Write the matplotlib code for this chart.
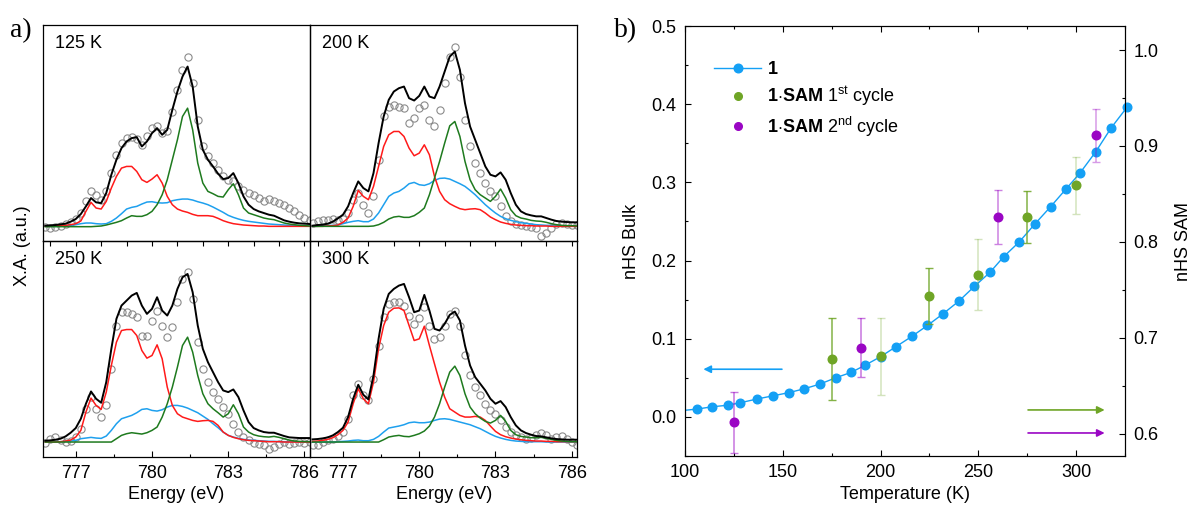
import matplotlib
matplotlib.use('Agg')
import matplotlib.pyplot as plt
from matplotlib.lines import Line2D
from matplotlib.ticker import MultipleLocator, FormatStrFormatter

plt.rcParams['font.family'] = ['Liberation Sans', 'DejaVu Sans']
plt.rcParams['mathtext.fontset'] = 'custom'
plt.rcParams['mathtext.rm'] = 'Liberation Sans'
plt.rcParams['mathtext.bf'] = 'Liberation Sans:bold'
plt.rcParams['mathtext.it'] = 'Liberation Sans:italic'

# ---- panel a: X-ray absorption spectra (a.u.) ----
energy = [775.8, 776.0, 776.2, 776.4, 776.6, 776.8, 777.0, 777.2, 777.4, 777.6,
          777.8, 778.0, 778.2, 778.4, 778.6, 778.8, 779.0, 779.2, 779.4, 779.6,
          779.8, 780.0, 780.2, 780.4, 780.6, 780.8, 781.0, 781.2, 781.4, 781.6,
          781.8, 782.0, 782.2, 782.4, 782.6, 782.8, 783.0, 783.2, 783.4, 783.6,
          783.8, 784.0, 784.2, 784.4, 784.6, 784.8, 785.0, 785.2, 785.4, 785.6,
          785.8, 786.0, 786.2]

data_125 = [0, -2, 0, 4, 8, 16, 24, 42, 77, 107, 97, 82, 107, 162, 217, 252, 267, 270, 264, 247,
            272, 297, 302, 282, 287, 347, 412, 472, 510, 432, 322, 242, 212, 192, 172, 152, 142, 137, 122, 112,
            102, 97, 87, 77, 84, 77, 72, 67, 57, 47, 37, 27, 22]
fit_125 = [4, 5, 6, 8, 10, 16, 24, 39, 62, 87, 74, 72, 102, 157, 202, 237, 257, 267, 270, 242,
           257, 282, 297, 277, 292, 352, 407, 452, 482, 422, 302, 232, 202, 182, 160, 144, 147, 162, 132, 92,
           67, 54, 47, 42, 37, 34, 27, 20, 16, 13, 11, 10, 9]
red_125 = [2, 2, 3, 4, 5, 7, 10, 18, 47, 74, 57, 54, 77, 117, 152, 177, 182, 182, 167, 142,
           134, 144, 157, 132, 92, 67, 54, 48, 44, 38, 34, 34, 34, 32, 26, 19, 14, 10, 8, 6,
           5, 4, 3, 3, 2, 2, 2, 2, 2, 2, 2, 2, 2]
green_125 = [1, 1, 1, 1, 1, 1, 1, 1, 1, 1, 2, 3, 6, 10, 14, 19, 27, 34, 32, 32,
             37, 47, 67, 97, 142, 202, 262, 332, 357, 292, 192, 132, 107, 100, 92, 90, 112, 130, 97, 57,
             42, 37, 32, 27, 24, 22, 17, 12, 9, 7, 5, 4, 3]
blue_125 = [2, 2, 2, 3, 4, 5, 7, 10, 12, 12, 10, 9, 10, 17, 27, 40, 54, 59, 62, 69,
            75, 76, 73, 72, 73, 79, 82, 84, 84, 81, 76, 72, 67, 60, 52, 44, 35, 29, 24, 20,
            17, 15, 13, 11, 9, 8, 7, 6, 5, 5, 4, 4, 3]

data_200 = [12, 17, 22, 22, 24, 22, 24, 42, 82, 102, 67, 42, 92, 202, 332, 362, 367, 360, 357, 312,
            327, 357, 367, 322, 304, 352, 432, 512, 542, 452, 322, 242, 192, 162, 132, 107, 92, 62, 32, 17,
            10, 7, 4, 0, -3, -28, -18, -3, 10, 12, 10, 7, 7]
fit_200 = [4, 6, 7, 10, 16, 26, 37, 62, 102, 137, 117, 107, 162, 252, 332, 382, 407, 417, 422, 387,
           380, 394, 422, 392, 387, 422, 467, 512, 527, 472, 372, 302, 262, 222, 182, 157, 152, 164, 142, 102,
           67, 47, 39, 35, 32, 32, 27, 22, 18, 16, 15, 14, 14]
red_200 = [2, 2, 2, 3, 4, 6, 14, 27, 62, 110, 92, 82, 122, 182, 242, 277, 287, 287, 272, 237,
           214, 222, 247, 217, 152, 107, 82, 70, 62, 55, 52, 54, 55, 52, 42, 30, 22, 15, 11, 8,
           6, 5, 4, 4, 3, 3, 3, 2, 2, 2, 2, 2, 2]
green_200 = [2, 2, 2, 2, 2, 2, 2, 2, 2, 2, 2, 2, 3, 7, 14, 24, 30, 32, 29, 29,
             34, 44, 57, 97, 147, 197, 252, 304, 317, 272, 197, 142, 112, 97, 87, 77, 92, 114, 87, 52,
             34, 27, 24, 20, 18, 17, 14, 10, 7, 5, 4, 4, 3]
blue_200 = [2, 2, 3, 4, 5, 6, 10, 14, 17, 19, 16, 16, 24, 42, 67, 92, 102, 107, 117, 130,
            134, 127, 125, 130, 140, 146, 147, 144, 137, 130, 122, 110, 97, 82, 67, 54, 42, 32, 25, 20,
            16, 13, 11, 9, 7, 6, 5, 5, 4, 4, 3, 3, 2]

data_250 = [0, 12, 17, 7, 2, 4, 17, 42, 102, 137, 102, 77, 112, 222, 352, 394, 392, 387, 377, 322,
            322, 367, 397, 352, 317, 347, 422, 492, 514, 432, 302, 222, 182, 152, 132, 107, 87, 57, 32, 17,
            7, 0, -3, -8, -18, -13, -3, 2, -3, 0, 2, 0, 2]
fit_250 = [6, 7, 9, 12, 19, 30, 44, 72, 117, 154, 132, 120, 182, 282, 372, 412, 427, 442, 450, 412,
           387, 402, 437, 397, 382, 412, 462, 497, 507, 452, 352, 282, 242, 212, 182, 157, 152, 160, 137, 97,
           62, 44, 37, 32, 30, 30, 25, 20, 16, 15, 14, 14, 14]
red_250 = [2, 2, 2, 3, 5, 8, 17, 37, 92, 134, 112, 100, 152, 232, 302, 337, 340, 340, 322, 277,
           254, 262, 294, 252, 167, 112, 87, 77, 72, 67, 64, 66, 67, 64, 52, 32, 22, 16, 12, 9,
           7, 6, 5, 4, 3, 3, 3, 2, 2, 2, 2, 2, 2]
green_250 = [2, 2, 2, 2, 2, 2, 2, 2, 2, 2, 2, 2, 2, 2, 12, 22, 27, 30, 28, 26,
             30, 37, 47, 77, 117, 167, 227, 292, 317, 272, 202, 147, 117, 102, 90, 77, 87, 114, 87, 47,
             32, 24, 20, 18, 17, 19, 16, 12, 8, 5, 4, 3, 3]
blue_250 = [2, 2, 3, 3, 4, 5, 7, 12, 14, 16, 14, 13, 20, 37, 57, 72, 77, 82, 90, 100,
            102, 97, 95, 99, 107, 112, 112, 109, 104, 97, 90, 80, 70, 57, 45, 32, 22, 17, 13, 10,
            8, 7, 6, 5, 4, 4, 3, 3, 3, 3, 2, 2, 2]

data_300 = [-8, -6, 2, 7, 12, 20, 32, 72, 142, 177, 144, 127, 192, 292, 377, 417, 424, 422, 412, 382,
            357, 374, 407, 352, 312, 317, 352, 387, 397, 352, 262, 202, 167, 142, 117, 97, 87, 67, 47, 32,
            22, 17, 12, 14, 24, 30, 22, 10, 17, 20, 12, 2, -8]
fit_300 = [10, 11, 13, 16, 22, 32, 45, 77, 132, 174, 144, 130, 202, 312, 402, 447, 462, 472, 477, 437,
           392, 397, 444, 397, 342, 337, 357, 384, 394, 367, 292, 232, 197, 177, 157, 132, 117, 125, 107, 77,
           52, 37, 29, 24, 20, 19, 16, 13, 11, 10, 9, 9, 9]
red_300 = [4, 5, 7, 10, 15, 24, 37, 62, 117, 162, 132, 117, 182, 282, 352, 392, 404, 405, 397, 352,
           307, 312, 350, 292, 237, 182, 137, 102, 92, 82, 77, 77, 79, 77, 67, 50, 34, 24, 18, 14,
           11, 9, 7, 6, 5, 5, 4, 4, 3, 3, 3, 3, 3]
green_300 = [2, 2, 2, 2, 2, 2, 2, 2, 2, 2, 2, 2, 2, 2, 9, 17, 20, 22, 19, 18,
             22, 27, 35, 50, 77, 117, 167, 212, 230, 202, 147, 107, 87, 74, 64, 59, 67, 82, 64, 37,
             24, 19, 17, 15, 15, 16, 13, 10, 7, 5, 4, 3, 3]
blue_300 = [2, 2, 2, 2, 2, 3, 4, 5, 7, 8, 6, 6, 10, 19, 32, 44, 47, 50, 54, 60,
            62, 60, 60, 62, 67, 71, 72, 70, 66, 62, 58, 54, 48, 42, 34, 26, 19, 14, 10, 7,
            5, 4, 3, 3, 3, 3, 2, 2, 2, 2, 2, 2, 2]

temps = ['125 K', '200 K', '250 K', '300 K']

# ---- panel b: high-spin fraction ----
T_bulk = [106, 114, 122, 128, 137, 145, 153, 161, 169, 177, 185, 192, 200, 208, 216,
          224, 232, 240, 248, 256, 263, 271, 279, 287, 295, 302, 310, 318, 326]
n_bulk = [0.010, 0.013, 0.015, 0.018, 0.023, 0.027, 0.031, 0.036, 0.042, 0.050, 0.057,
          0.066, 0.077, 0.090, 0.103, 0.117, 0.132, 0.148, 0.167, 0.185, 0.205, 0.224,
          0.247, 0.269, 0.292, 0.312, 0.339, 0.370, 0.396]
T_line_start = 100
n_line_start = 0.0085

T_c1 = [175, 200, 225, 250, 275, 300]
n_c1 = [0.678, 0.681, 0.744, 0.766, 0.826, 0.859]
e_c1 = [0.043, 0.040, 0.029, 0.037, 0.027, 0.030]
T_c2 = [125, 190, 260, 310]
n_c2 = [0.612, 0.690, 0.826, 0.911]
e_c2 = [0.032, 0.031, 0.028, 0.028]

c_red = '#ff1a1a'
c_green = '#1e7a1e'
c_blue = '#1ea0ee'
c_b1 = '#14a0f5'
c_g = '#6fa526'
c_p = '#9a06c4'
fs = 13

fig = plt.figure(figsize=(12, 5.11), dpi=100)

spectra = [(data_125, fit_125, red_125, green_125, blue_125),
           (data_200, fit_200, red_200, green_200, blue_200),
           (data_250, fit_250, red_250, green_250, blue_250),
           (data_300, fit_300, red_300, green_300, blue_300)]
boxes = [[0.0356, 0.5284, 0.2228, 0.4221], [0.2583, 0.5284, 0.2228, 0.4221],
         [0.0356, 0.1063, 0.2228, 0.4221], [0.2583, 0.1063, 0.2228, 0.4221]]

for i, (box, (dat, fit, red, grn, blu)) in enumerate(zip(boxes, spectra)):
    ax = fig.add_axes(box)
    ax.set_facecolor('none')
    ax.plot(energy, dat, 'o', ms=5.2, mfc='none', mec='#8a8a8a', mew=0.8, zorder=1)
    ax.plot(energy, blu, color=c_blue, lw=1.1, zorder=2)
    ax.plot(energy, red, color=c_red, lw=1.1, zorder=3)
    ax.plot(energy, grn, color=c_green, lw=1.1, zorder=4)
    ax.plot(energy, fit, color='black', lw=1.4, zorder=5)
    ax.set_xlim(775.7, 786.22)
    ax.set_ylim(-42, 606)
    ax.set_yticks([])
    ax.text(0.046, 0.915, temps[i], transform=ax.transAxes, va='center', fontsize=fs)
    for s in ax.spines.values():
        s.set_linewidth(0.9)
    if i < 2:
        ax.xaxis.set_major_locator(MultipleLocator(1))
        ax.tick_params(axis='x', direction='out', length=3.5, width=0.8, labelbottom=False)
    else:
        ax.xaxis.set_major_locator(MultipleLocator(3))
        ax.xaxis.set_minor_locator(MultipleLocator(1.5))
        ax.tick_params(axis='x', which='major', direction='in', length=4.5, width=0.8,
                       labelsize=fs, pad=6)
        ax.tick_params(axis='x', which='minor', direction='in', length=2.5, width=0.8)
        ax.set_xlabel('Energy (eV)', fontsize=fs, labelpad=3)

fig.text(0.0185, 0.52, 'X.A. (a.u.)', rotation=90, ha='center', va='center', fontsize=fs)
fig.text(0.008, 0.941, 'a)', family=['Liberation Serif'], fontsize=20, va='center')
fig.text(0.512, 0.941, 'b)', family=['Liberation Serif'], fontsize=20, va='center')

# panel b
axb = fig.add_axes([0.5708, 0.1076, 0.3667, 0.8415])
axr = axb.twinx()
axb.plot([T_line_start] + T_bulk, [n_line_start] + n_bulk, '-', color=c_b1, lw=1.0, zorder=2)
axb.plot(T_bulk, n_bulk, 'o', color=c_b1, ms=6.2, zorder=3, clip_on=False)
axb.set_xlim(100, 325)
axb.set_ylim(-0.05, 0.5)
axr.set_ylim(0.577, 1.025)

alph1 = [0.85, 0.3, 0.85, 0.3, 0.85, 0.3]
for t, n, e, a in zip(T_c1, n_c1, e_c1, alph1):
    axr.errorbar(t, n, yerr=e, fmt='none', ecolor=c_g, alpha=a, capsize=3, elinewidth=1.1, zorder=2)
alph2 = [0.55, 0.55, 0.5, 0.4]
for t, n, e, a in zip(T_c2, n_c2, e_c2, alph2):
    axr.errorbar(t, n, yerr=e, fmt='none', ecolor=c_p, alpha=a, capsize=3, elinewidth=1.1, zorder=2)
axr.plot(T_c1, n_c1, 'o', color=c_g, ms=6.2, zorder=4)
axr.plot(T_c2, n_c2, 'o', color=c_p, ms=6.2, zorder=4)

arrow = dict(arrowstyle='-|>', lw=1.2, mutation_scale=11)
axb.annotate('', xy=(108, 0.061), xytext=(151, 0.061), arrowprops=dict(arrow, color=c_b1))
axr.annotate('', xy=(316, 0.625), xytext=(274, 0.625), arrowprops=dict(arrow, color=c_g))
axr.annotate('', xy=(316, 0.601), xytext=(274, 0.601), arrowprops=dict(arrow, color=c_p))

axb.xaxis.set_major_locator(MultipleLocator(50))
axb.xaxis.set_minor_locator(MultipleLocator(25))
axb.yaxis.set_major_locator(MultipleLocator(0.1))
axb.yaxis.set_minor_locator(MultipleLocator(0.05))
axr.yaxis.set_major_locator(MultipleLocator(0.1))
axr.yaxis.set_minor_locator(MultipleLocator(0.05))
axb.tick_params(which='major', direction='in', length=4.5, width=0.8, labelsize=fs, top=True, pad=6)
axb.tick_params(which='minor', direction='in', length=2.5, width=0.8, top=True)
axr.tick_params(which='major', direction='in', length=4.5, width=0.8, labelsize=fs, pad=6)
axr.tick_params(which='minor', direction='in', length=2.5, width=0.8)
axb.yaxis.set_major_formatter(FormatStrFormatter('%.1f'))
axr.yaxis.set_major_formatter(FormatStrFormatter('%.1f'))
axb.set_xlabel('Temperature (K)', fontsize=fs, labelpad=3)
axb.set_ylabel('nHS Bulk', fontsize=fs, labelpad=8)
axr.set_ylabel('nHS SAM', fontsize=fs, labelpad=12)

handles = [Line2D([], [], color=c_b1, lw=1.0, marker='o', ms=6.2),
           Line2D([], [], color=c_g, ls='none', marker='o', ms=5.5),
           Line2D([], [], color=c_p, ls='none', marker='o', ms=5.5)]
labels = [r'$\mathbf{1}$',
          r'$\mathbf{1{\cdot}SAM}$ 1$^{\rm st}$ cycle',
          r'$\mathbf{1{\cdot}SAM}$ 2$^{\rm nd}$ cycle']
axb.legend(handles, labels, loc='upper left', bbox_to_anchor=(0.05, 0.935), frameon=False,
           fontsize=fs, handlelength=2.6, handletextpad=0.3, labelspacing=0.35,
           borderaxespad=0)

fig.savefig('out.png', dpi=100)
